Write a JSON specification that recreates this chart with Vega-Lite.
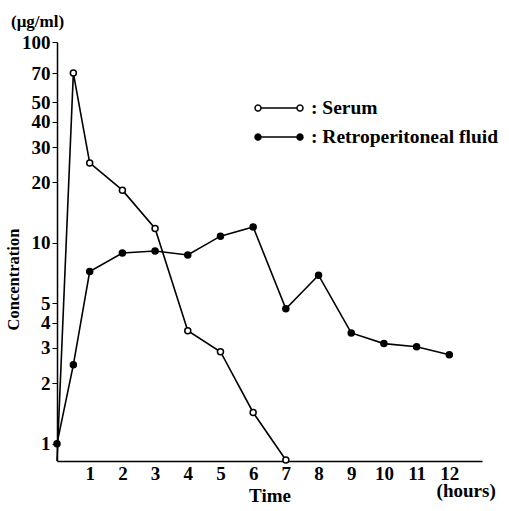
{
  "$schema": "https://vega.github.io/schema/vega-lite/v6.json",
  "autosize": {"type": "none"},
  "width": 425,
  "height": 419,
  "padding": {"left": 57, "top": 42, "right": 27, "bottom": 50},
  "background": "white",
  "title": {
    "text": "(μg/ml)",
    "anchor": "start",
    "frame": "group",
    "dx": -46,
    "offset": 2,
    "font": "Liberation Serif",
    "fontSize": 17,
    "fontWeight": "bold",
    "color": "black"
  },
  "config": {
    "view": {"stroke": null},
    "font": "Liberation Serif",
    "axis": {
      "domainColor": "black",
      "tickColor": "black",
      "labelColor": "black",
      "titleColor": "black",
      "grid": false,
      "labelFont": "Liberation Serif",
      "titleFont": "Liberation Serif",
      "labelFontWeight": "bold",
      "titleFontWeight": "bold",
      "domainWidth": 1.5
    }
  },
  "data": {
    "values": [
      {"series": "Serum", "time": 0, "conc": 0.82},
      {"series": "Serum", "time": 0.5, "conc": 70},
      {"series": "Serum", "time": 1, "conc": 25},
      {"series": "Serum", "time": 2, "conc": 18.3},
      {"series": "Serum", "time": 3, "conc": 11.8},
      {"series": "Serum", "time": 4, "conc": 3.65},
      {"series": "Serum", "time": 5, "conc": 2.87},
      {"series": "Serum", "time": 6, "conc": 1.43},
      {"series": "Serum", "time": 7, "conc": 0.83},
      {"series": "Retroperitoneal fluid", "time": 0, "conc": 1.0},
      {"series": "Retroperitoneal fluid", "time": 0.5, "conc": 2.47},
      {"series": "Retroperitoneal fluid", "time": 1, "conc": 7.2},
      {"series": "Retroperitoneal fluid", "time": 2, "conc": 8.9},
      {"series": "Retroperitoneal fluid", "time": 3, "conc": 9.1},
      {"series": "Retroperitoneal fluid", "time": 4, "conc": 8.7},
      {"series": "Retroperitoneal fluid", "time": 5, "conc": 10.8},
      {"series": "Retroperitoneal fluid", "time": 6, "conc": 12.0},
      {"series": "Retroperitoneal fluid", "time": 7, "conc": 4.7},
      {"series": "Retroperitoneal fluid", "time": 8, "conc": 6.9},
      {"series": "Retroperitoneal fluid", "time": 9, "conc": 3.56},
      {"series": "Retroperitoneal fluid", "time": 10, "conc": 3.15},
      {"series": "Retroperitoneal fluid", "time": 11, "conc": 3.04},
      {"series": "Retroperitoneal fluid", "time": 12, "conc": 2.77}
    ]
  },
  "encoding": {
    "x": {
      "field": "time",
      "type": "quantitative",
      "scale": {"domain": [0, 13], "nice": false, "zero": false},
      "axis": {
        "values": [1, 2, 3, 4, 5, 6, 7, 8, 9, 10, 11, 12, 12.5],
        "labelExpr": "datum.value == 12.5 ? ['', '(hours)'] : datum.label",
        "labelOverlap": false,
        "labelBound": false,
        "labelFlush": false,
        "tickSize": 0,
        "labelPadding": 3,
        "labelFontSize": 19,
        "labelLineHeight": 17,
        "title": "Time",
        "titleFontSize": 19,
        "titleBaseline": "middle",
        "titleY": 34
      }
    },
    "y": {
      "field": "conc",
      "type": "quantitative",
      "scale": {"type": "log", "domain": [0.82, 100], "nice": false, "zero": false},
      "axis": {
        "values": [1, 2, 3, 4, 5, 10, 20, 30, 40, 50, 70, 100],
        "format": "d",
        "labelOverlap": false,
        "tickSize": 5,
        "labelPadding": 2,
        "labelFontSize": 19,
        "title": "Concentration",
        "titleFontSize": 16.5,
        "titleBaseline": "middle",
        "titleY": 237,
        "titleX": -43.5
      }
    }
  },
  "layer": [
    {
      "mark": {"type": "line", "color": "black", "strokeWidth": 1.6},
      "encoding": {"detail": {"field": "series"}}
    },
    {
      "transform": [{"filter": "datum.time > 0 || datum.series == 'Retroperitoneal fluid'"}],
      "mark": {"type": "point", "shape": "circle", "size": 36, "stroke": "black", "strokeWidth": 1.5, "filled": true, "opacity": 1},
      "encoding": {
        "fill": {
          "field": "series",
          "type": "nominal",
          "scale": {"domain": ["Serum", "Retroperitoneal fluid"], "range": ["white", "black"]},
          "legend": {
            "title": null,
            "orient": "none",
            "legendX": 203,
            "legendY": 47,
            "padding": 0,
            "rowPadding": 0,
            "symbolType": "M-1,0L1,0M-1,0A0.1667,0.1667,0,1,1,-1.3333,0A0.1667,0.1667,0,1,1,-1,0ZM1.3333,0A0.1667,0.1667,0,1,1,1,0A0.1667,0.1667,0,1,1,1.3333,0Z",
            "symbolSize": 1296,
            "symbolStrokeColor": "black",
            "symbolStrokeWidth": 1.5,
            "symbolOpacity": 1,
            "labelExpr": "':  ' + datum.label",
            "labelOffset": 13,
            "labelFont": "Liberation Serif",
            "labelFontSize": 19.5,
            "labelFontWeight": "bold",
            "labelColor": "black",
            "labelLimit": 300
          }
        }
      }
    }
  ]
}
